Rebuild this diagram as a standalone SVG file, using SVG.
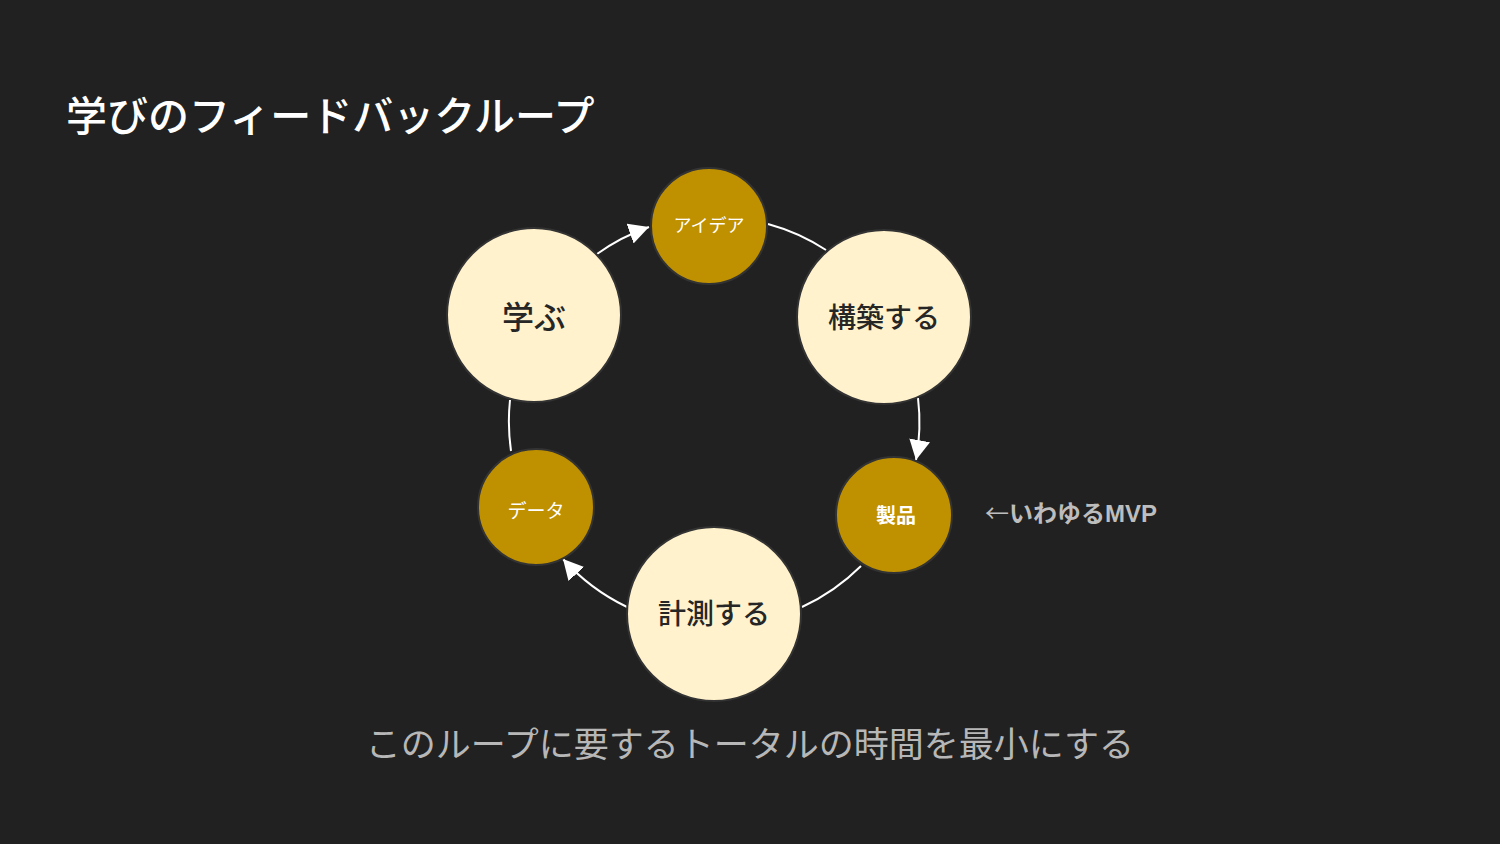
<svg xmlns="http://www.w3.org/2000/svg" width="1500" height="844" viewBox="0 0 1500 844">
<style>
text{font-family:"Liberation Sans","Noto Sans CJK JP",sans-serif}
.big{fill:#FFF2CC;stroke:#333;stroke-width:2}
.small{fill:#BF9000;stroke:#333;stroke-width:2}
.dk{fill:#262626;text-anchor:middle;font-weight:500}
.wt{fill:#ffffff;text-anchor:middle}
.conn path{fill:none;stroke:#ffffff;stroke-width:2}
</style>
<defs>
<marker id="ah" markerUnits="userSpaceOnUse" markerWidth="22" markerHeight="22" viewBox="0 0 22 22" refX="20" refY="10.5" orient="auto">
<path d="M0,0 L20,10.5 L0,21 z" fill="#ffffff"/>
</marker>
</defs>
<rect width="1500" height="844" fill="#212121"/>
<text x="66" y="131" font-size="41" font-weight="500" fill="#ffffff">学びのフィードバックループ</text>
<g class="conn" id="connectors">
<path d="M597,254 A205,205 0 0,1 649,227" marker-end="url(#ah)"/>
<path d="M768,224 A205,205 0 0,1 826,250"/>
<path d="M918,398 A205,205 0 0,1 916,460" marker-end="url(#ah)"/>
<path d="M861,566 A205,205 0 0,1 802,607"/>
<path d="M627,607 A205,205 0 0,1 563,559" marker-end="url(#ah)"/>
<path d="M511,451 A205,205 0 0,1 510,400"/>
</g>
<g id="idea"><circle class="small" cx="709" cy="226" r="58"/><text class="wt" x="709" y="232" font-size="18">アイデア</text></g>
<g id="learn"><circle class="big" cx="534" cy="315" r="87"/><text class="dk" x="534" y="329" font-size="32">学ぶ</text></g>
<g id="build"><circle class="big" cx="884" cy="317" r="87"/><text class="dk" x="884" y="328" font-size="28">構築する</text></g>
<g id="product"><circle class="small" cx="894" cy="515" r="58"/><text class="wt" x="896" y="523" font-size="20" font-weight="bold">製品</text></g>
<g id="measure"><circle class="big" cx="714" cy="614" r="87"/><text class="dk" x="714" y="624" font-size="28">計測する</text></g>
<g id="data"><circle class="small" cx="536" cy="507" r="58"/><text class="wt" x="536" y="518" font-size="19">データ</text></g>
<text x="985" y="522" font-size="24" font-weight="bold" fill="#bdbdbd"><tspan font-family="'Noto Sans CJK JP',sans-serif" font-weight="normal">←</tspan>いわゆるMVP</text>
<text x="750" y="757" font-size="35" fill="#b7b7b7" text-anchor="middle">このループに要するトータルの時間を最小にする</text>
</svg>
